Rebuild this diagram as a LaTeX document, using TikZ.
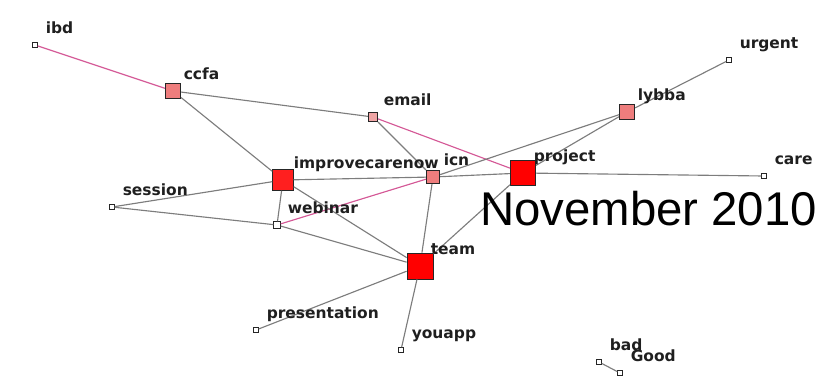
\documentclass[tikz,border=0pt]{standalone}
\usepackage{fontspec}
\setmainfont{Liberation Sans}
\newfontfamily\wordfont{DejaVu Sans}
\usetikzlibrary{calc}
\definecolor{hotpink}{RGB}{212,88,150}
\definecolor{linkgray}{RGB}{125,125,125}
\definecolor{midred}{RGB}{238,125,125}
\definecolor{lightred}{RGB}{240,165,165}
\tikzstyle{link} = [draw=linkgray, line width=0.85pt]
\tikzstyle{hotlink} = [draw=hotpink, line width=0.85pt]
\tikzstyle{term} = [rectangle, draw=black!85, line width=0.6pt, inner sep=0pt]
\tikzstyle{leaf} = [term, fill=white, minimum size=3.5pt]
\tikzstyle{warm} = [term, fill=midred]
\tikzstyle{hot} = [term, fill=red]
\tikzstyle{word} = [anchor=base west, inner sep=0pt, text=black!88, font=\wordfont\bfseries\fontsize{11.6}{12}\selectfont]
\begin{document}
\begin{tikzpicture}[x=0.75pt, y=-0.75pt]
\useasboundingbox (0,0) rectangle (819,376);

% terms
\node(ibd)[leaf] at (35,45) {};
\node(ccfa)[warm, minimum size=11.5pt] at (173,91) {};
\node(email)[term, fill=lightred, minimum size=7pt] at (373,117) {};
\node(improvecarenow)[hot, fill=red!88!white, minimum size=15.5pt] at (283,180) {};
\node(icn)[warm, minimum size=10pt] at (433,177) {};
\node(project)[hot, minimum size=19pt] at (523,173) {};
\node(lybba)[warm, minimum size=11.5pt] at (627,112) {};
\node(urgent)[leaf] at (729,60) {};
\node(care)[leaf] at (764,176) {};
\node(session)[leaf] at (112,207) {};
\node(webinar)[leaf, minimum size=5pt] at (277,225) {};
\node(team)[hot, minimum size=19.5pt] at (420,266) {};
\node(presentation)[leaf] at (256,330) {};
\node(youapp)[leaf] at (401,350) {};
\node(bad)[leaf] at (599,362) {};
\node(Good)[leaf] at (620,373) {};

% links
\draw [hotlink] (ibd) -- (ccfa);
\draw [link] (ccfa) -- (email);
\draw [link] (ccfa) -- (improvecarenow);
\draw [hotlink] (email) -- (project);
\draw [link] (email) -- (icn);
\draw [link] (improvecarenow) -- (icn);
\draw [link] (icn) -- (project);
\draw [link] (project) -- (care);
\draw [link] (icn) -- (lybba);
\draw [link] (project) -- (lybba);
\draw [link] (lybba) -- (urgent);
\draw [link] (improvecarenow) -- (session);
\draw [link] (session) -- (webinar);
\draw [link] (improvecarenow) -- (webinar);
\draw [hotlink] (webinar) -- (icn);
\draw [link] (improvecarenow) -- (team);
\draw [link] (webinar) -- (team);
\draw [link] (icn) -- (team);
\draw [link] (team) -- (project);
\draw [link] (team) -- (presentation);
\draw [link] (team) -- (youapp);
\draw [link] (bad) -- (Good);

% labels
\foreach \t in {ibd,ccfa,email,improvecarenow,icn,project,lybba,urgent,care,session,webinar,team,presentation,youapp,bad,Good}
  \node(\t-word)[word] at ($(\t)+(10.5,-12)$) {\t};

\node(month)[anchor=base west, inner sep=0pt, font=\fontsize{35.5}{38}\selectfont] at (480,225) {November 2010};
\end{tikzpicture}
\end{document}
